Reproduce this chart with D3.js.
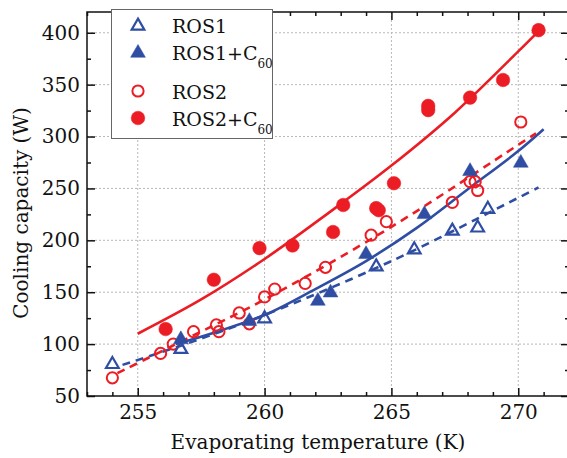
<!DOCTYPE html>
<html>
<head>
<meta charset="utf-8">
<script src="https://cdn.jsdelivr.net/npm/d3@7"></script>
<style>
  body { margin: 0; background: #fff; }
</style>
</head>
<body>
<svg id="chart" width="567" height="458"></svg>
<script>
// data
const ros1X = [254.0, 256.7, 260.0, 264.4, 265.9, 267.4, 268.4, 268.8];
const ros1Y = [81.5, 96, 125.5, 175.5, 192, 210, 213, 231];

const ros1cX = [256.7, 259.4, 262.1, 262.6, 264.0, 266.3, 268.1, 270.1];
const ros1cY = [105.5, 123, 142.5, 150.5, 187.5, 226, 267.5, 275.5];

const ros2X = [254.0, 255.9, 256.4, 257.2, 258.1, 258.2, 259.0, 259.4, 260.0, 260.4, 261.6, 262.4, 264.2, 264.8, 267.4, 268.1, 268.3, 268.4, 270.1];
const ros2Y = [67.5, 91, 100, 112, 118.5, 112, 130, 119.5, 145.5, 153, 158.5, 174, 205, 218, 236.5, 256.5, 256.5, 248, 314];

const ros2cX = [256.1, 258.0, 259.8, 261.1, 262.7, 263.1, 264.4, 264.5, 265.1, 266.45, 266.45, 268.1, 269.4, 270.8];
const ros2cY = [114.5, 162, 192.5, 195, 208, 234, 231, 229, 255, 329.5, 325.5, 337.5, 354.5, 402.5];

// fitted curves, also
const fit1X = [254.4, 257, 260, 265, 270, 270.8];
const fit1Y = [80, 101, 128, 180, 241, 251];
const fit1cX = [256.5, 258, 260, 262, 264, 266, 268, 270, 271];
const fit1cY = [100, 111, 128, 153, 180, 212, 249, 286, 307];
const fit2X = [254.2, 257, 260, 265, 270, 270.7];
const fit2Y = [72, 106, 143, 213, 292, 303];
const fit2cX = [255, 257.5, 260, 262.5, 265, 267.5, 270, 270.9];
const fit2cY = [110, 143, 182, 226, 272, 323, 382, 404];

const xTicks = [255, 260, 265, 270];
const yTicks = [50, 100, 150, 200, 250, 300, 350, 400];
const legendNames = ["ROS1", "ROS1+C", "ROS2", "ROS2+C"];

const blue = "#2f4ea3";
const red = "#ec1c24";
// only serif face that resolves here
const serif = "DejaVu Serif";

const svg = d3.select('#chart');
const mL = 87, mR = 569, mT = 12, mB = 396;

const x = d3.scaleLinear().domain([253, 272]).range([mL, mR]);
const y = d3.scaleLinear().domain([50, 420]).range([mB, mT]);

// grid
const grid = svg.append('g');
grid.selectAll('line.gx')
    .data(xTicks)
    .enter()
    .append('line')
    .attr('x1', d => x(d)).attr('x2', d => x(d))
    .attr('y1', mT).attr('y2', mB)
    .attr('stroke', '#b8b8b8').attr('stroke-width', 1).attr('stroke-dasharray', '2,2');
grid.selectAll('line.gy')
    .data(yTicks.filter(d => d > 50))
    .enter()
    .append('line')
    .attr('x1', mL).attr('x2', mR)
    .attr('y1', d => y(d)).attr('y2', d => y(d))
    .attr('stroke', '#b8b8b8').attr('stroke-width', 1).attr('stroke-dasharray', '2,2');

// axes, ticks inward
const minorX = d3.range(253, 273, 1).filter(d => !xTicks.includes(d));
const minorY = d3.range(75, 420, 50);

const addAxis = (axis, transform, labels) => {
    const g = svg.append('g').attr('transform', transform).call(axis);
    g.select('.domain').remove();
    g.selectAll('line').attr('stroke', '#111').attr('stroke-width', 1.5);
    if (!labels) g.selectAll('text').remove();
    g.selectAll('text').attr('fill', '#111').style('font-family', serif).style('font-size', '20px');
    return g;
};

addAxis(d3.axisBottom(x).tickValues(xTicks).tickSize(-8).tickPadding(9), `translate(0,${mB})`, true);
addAxis(d3.axisBottom(x).tickValues(minorX).tickSize(-4), `translate(0,${mB})`, false);
addAxis(d3.axisTop(x).tickValues(xTicks).tickSize(-8), `translate(0,${mT})`, false);
addAxis(d3.axisTop(x).tickValues(minorX).tickSize(-4), `translate(0,${mT})`, false);

addAxis(d3.axisLeft(y).tickValues(yTicks).tickSize(-8).tickPadding(7), `translate(${mL},0)`, true);
addAxis(d3.axisLeft(y).tickValues(minorY).tickSize(-4), `translate(${mL},0)`, false);
addAxis(d3.axisRight(y).tickValues(yTicks).tickSize(-8), `translate(${mR},0)`, false);
addAxis(d3.axisRight(y).tickValues(minorY).tickSize(-4), `translate(${mR},0)`, false);

svg.append('rect')
    .attr('x', mL).attr('y', mT)
    .attr('width', mR - mL).attr('height', mB - mT)
    .attr('fill', 'none').attr('stroke', '#111').attr('stroke-width', 1.5);

// axis titles
svg.append('text')
    .attr('x', 318).attr('y', 449)
    .attr('text-anchor', 'middle')
    .style('font-family', serif).style('font-size', '20px').attr('fill', '#111')
    .text('Evaporating temperature (K)');
svg.append('text')
    .attr('transform', `translate(28,213) rotate(-90)`)
    .attr('text-anchor', 'middle')
    .style('font-family', serif).style('font-size', '20px').attr('fill', '#111')
    .text('Cooling capacity (W)');

// fitted lines
const line = d3.line().x(d => x(d[0])).y(d => y(d[1])).curve(d3.curveCatmullRom);
const fits = [
    [fit1X, fit1Y, blue, '8,6'],
    [fit1cX, fit1cY, blue, null],
    [fit2X, fit2Y, red, '8,6'],
    [fit2cX, fit2cY, red, null]
];
fits.forEach(([xs, ys, color, dash]) => {
    svg.append('path')
        .datum(d3.zip(xs, ys))
        .attr('d', line)
        .attr('fill', 'none')
        .attr('stroke', color)
        .attr('stroke-width', 2.6)
        .attr('stroke-dasharray', dash);
});

// markers
const tri = d3.symbol().type(d3.symbolTriangle);
const drawTri = (g, px, py, filled) => {
    g.append('path')
        .attr('transform', `translate(${px},${py + 1})`)
        .attr('d', tri.size(filled ? 95 : 70)())
        .attr('fill', filled ? blue : 'none')
        .attr('stroke', blue)
        .attr('stroke-width', filled ? 0.5 : 2.2);
};
const drawCircle = (g, px, py, filled) => {
    g.append('circle')
        .attr('cx', px).attr('cy', py)
        .attr('r', filled ? 6.8 : 5.6)
        .attr('fill', filled ? red : 'none')
        .attr('stroke', red)
        .attr('stroke-width', filled ? 0.5 : 2);
};

const marks = svg.append('g');
d3.zip(ros2X, ros2Y).forEach(d => drawCircle(marks, x(d[0]), y(d[1]), false));
d3.zip(ros2cX, ros2cY).forEach(d => drawCircle(marks, x(d[0]), y(d[1]), true));
d3.zip(ros1X, ros1Y).forEach(d => drawTri(marks, x(d[0]), y(d[1]), false));
d3.zip(ros1cX, ros1cY).forEach(d => drawTri(marks, x(d[0]), y(d[1]), true));

// legend
const lg = svg.append('g');
lg.append('rect')
    .attr('x', 111.5).attr('y', 9.5).attr('width', 161).attr('height', 129)
    .attr('fill', '#fff').attr('stroke', '#666').attr('stroke-width', 1);
const rows = [25, 52, 91, 118];
drawTri(lg, 138, rows[0], false);
drawTri(lg, 138, rows[1], true);
drawCircle(lg, 138, rows[2], false);
drawCircle(lg, 138, rows[3], true);
legendNames.forEach((name, i) => {
    const t = lg.append('text')
        .attr('x', 172).attr('y', rows[i] + 8)
        .style('font-size', '19px').style('font-family', serif).attr('fill', '#111');
    t.append('tspan').text(name);
    if (i % 2 === 1) {
        t.append('tspan').style('font-size', '12px').attr('dy', 8).text('60');
    }
});
</script>
</body>
</html>
